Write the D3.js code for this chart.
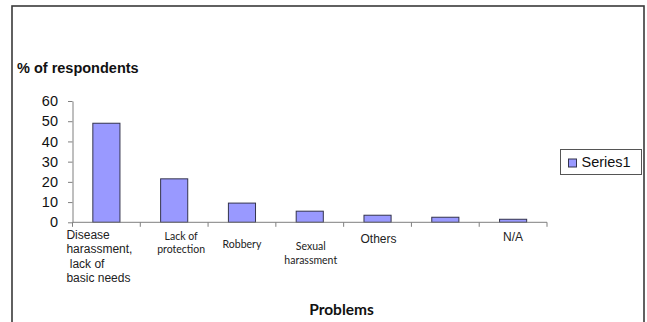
<!DOCTYPE html>
<html>
<head>
<meta charset="utf-8">
<script src="https://cdn.jsdelivr.net/npm/d3@7/dist/d3.min.js"></script>
<style>
body{margin:0;background:#fff;}
svg{display:block;}
</style>
</head>
<body>
<script>
(function(){
'use strict';

// data
var categories = ['Disease harassment, lack of basic needs', 'Lack of protection', 'Robbery',
                  'Sexual harassment', 'Others', '(unlabelled)', 'N/A'];
var values = [49, 21.5, 9.5, 5.5, 3.5, 2.5, 1.5];
var labelLines = [['Disease', 'harassment,', '\u00a0lack of', 'basic needs'],
                  ['Lack of', 'protection'], ['Robbery'], ['Sexual', 'harassment'],
                  ['Others'], [], ['N/A']];
var yTicks = [0, 10, 20, 30, 40, 50, 60];
var seriesName = 'Series1';
var yTitle = '% of respondents';
var xTitle = 'Problems';

// label placement (the labels in the original sit a bit loose)
var arial = 'Arial, "Liberation Sans", sans-serif';
var narrow = 'Lato, "Noto Sans", sans-serif';
var labelLayout = [
  {font: arial, size: 12, anchor: 'start', dx: -40, y: 239, lh: 14.4},
  {font: narrow, size: 10.5, anchor: 'middle', dx: 7, y: 240, lh: 13},
  {font: narrow, size: 10.5, anchor: 'middle', dx: 0, y: 248, lh: 13},
  {font: narrow, size: 10.5, anchor: 'middle', dx: 1, y: 250, lh: 13.5},
  {font: arial, size: 12, anchor: 'middle', dx: 1, y: 243, lh: 14},
  {font: arial, size: 12, anchor: 'middle', dx: 0, y: 243, lh: 14},
  {font: arial, size: 12, anchor: 'middle', dx: 0, y: 241, lh: 14}
];

var width = 647;
var height = 322;

var svg = d3.select('body').append('svg')
            .attr('width', width)
            .attr('height', height);

// outer chart frame (bottom runs off the picture)
svg.append('rect')
   .attr('x', 12).attr('y', 6)
   .attr('width', 632).attr('height', 330)
   .attr('fill', '#fff')
   .attr('stroke', '#3a3a3a')
   .attr('stroke-width', 1.6);

var x = d3.scaleBand()
          .domain(d3.range(categories.length))
          .range([72.5, 547])
          .paddingInner(0.6)
          .paddingOuter(0.3);

var y = d3.scaleLinear()
          .domain([0, 60])
          .range([222.3, 101]);

// y axis
var yAxis = svg.append('g')
               .attr('transform', 'translate(72.5,0)')
               .call(d3.axisLeft(y).tickValues(yTicks).tickSizeInner(4.5).tickSizeOuter(0).tickPadding(10));
yAxis.select('.domain').attr('stroke', '#7f7f7f');
yAxis.selectAll('.tick line').attr('stroke', '#7f7f7f');
yAxis.selectAll('.tick text')
     .attr('fill', '#111')
     .style('font-family', arial)
     .style('font-size', '14.5px');

// bars
svg.selectAll('rect.bar')
   .data(values)
   .enter()
   .append('rect')
   .attr('class', 'bar')
   .attr('x', function(d, i){ return x(i); })
   .attr('y', function(d){ return y(d); })
   .attr('width', x.bandwidth())
   .attr('height', function(d){ return y(0) - y(d); })
   .attr('fill', '#9999ff')
   .attr('stroke', '#33334d')
   .attr('stroke-width', 1);

// x axis line with ticks at category boundaries
var step = x.step();
var x0 = x.range()[0];
var bounds = d3.range(categories.length + 1).map(function(k){ return x0 + k * step; });
svg.append('line')
   .attr('x1', x0).attr('x2', x.range()[1])
   .attr('y1', y(0)).attr('y2', y(0))
   .attr('stroke', '#7f7f7f');
svg.selectAll('line.xtick')
   .data(bounds)
   .enter()
   .append('line')
   .attr('class', 'xtick')
   .attr('x1', function(d){ return d; })
   .attr('x2', function(d){ return d; })
   .attr('y1', y(0))
   .attr('y2', y(0) + 4.5)
   .attr('stroke', '#7f7f7f');

// category labels
labelLines.forEach(function(lines, i){
  var lay = labelLayout[i];
  var cx = x(i) + x.bandwidth() / 2 + lay.dx;
  var t = svg.append('text')
             .attr('text-anchor', lay.anchor)
             .attr('fill', '#222')
             .style('font-family', lay.font)
             .style('font-size', lay.size + 'px')
             .style('white-space', 'pre');
  lines.forEach(function(s, j){
    t.append('tspan')
     .attr('x', cx)
     .attr('y', lay.y + j * lay.lh)
     .text(s);
  });
});

// axis titles
svg.append('text')
   .attr('x', 17).attr('y', 72.5)
   .attr('fill', '#111')
   .style('font-family', arial)
   .style('font-weight', 'bold')
   .style('font-size', '14.5px')
   .text(yTitle);

svg.append('text')
   .attr('x', 341.5).attr('y', 315)
   .attr('text-anchor', 'middle')
   .attr('fill', '#111')
   .style('font-family', narrow)
   .style('font-weight', 'bold')
   .style('font-size', '15.5px')
   .text(xTitle);

// legend
var legend = svg.append('g');
legend.append('rect')
      .attr('x', 560.5).attr('y', 149.5)
      .attr('width', 81).attr('height', 25)
      .attr('fill', '#fff')
      .attr('stroke', '#555');
legend.append('rect')
      .attr('x', 568.5).attr('y', 159)
      .attr('width', 8).attr('height', 8)
      .attr('fill', '#9999ff')
      .attr('stroke', '#33334d');
legend.append('text')
      .attr('x', 581.5).attr('y', 167)
      .attr('fill', '#111')
      .style('font-family', arial)
      .style('font-size', '14.5px')
      .text(seriesName);

})();
</script>
</body>
</html>
